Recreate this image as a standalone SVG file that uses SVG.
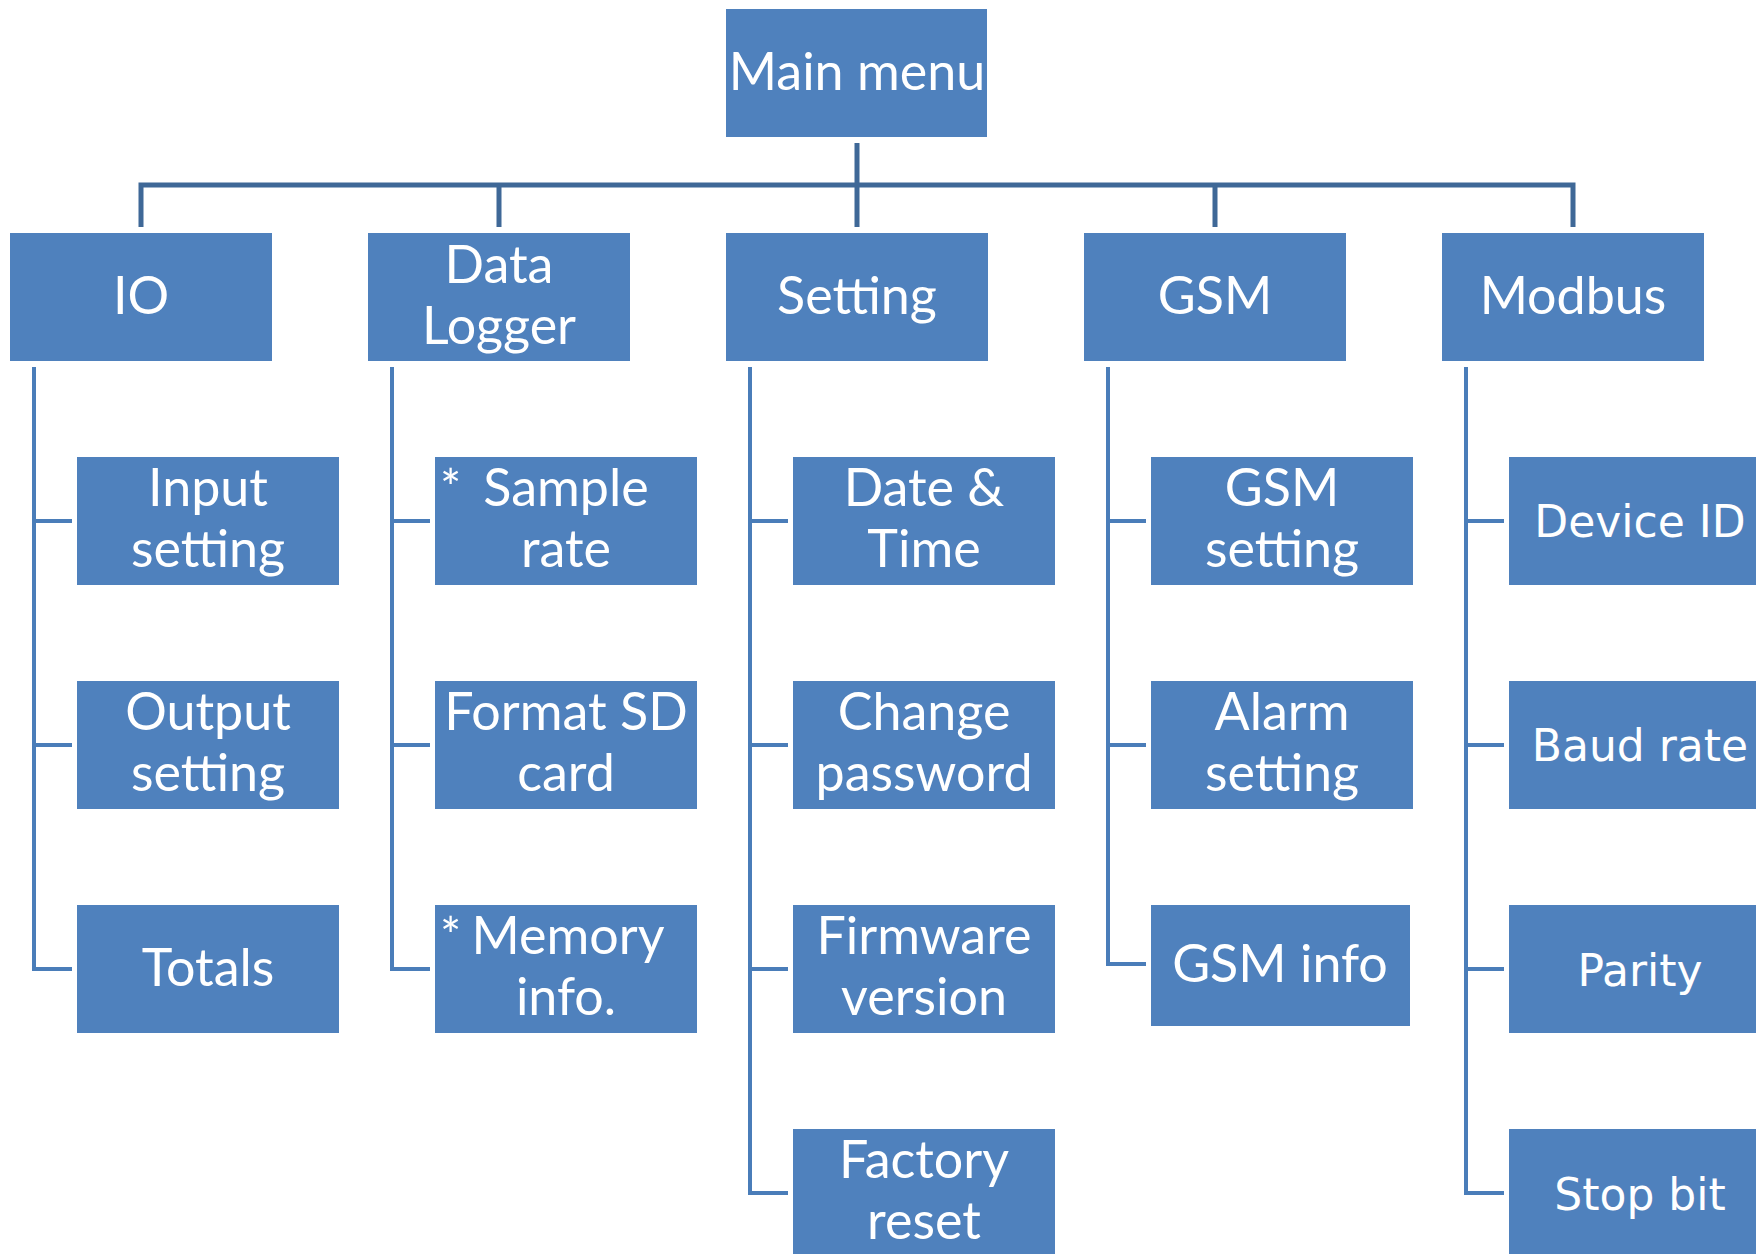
<svg xmlns="http://www.w3.org/2000/svg" width="1756" height="1254" viewBox="0 0 1756 1254">
<style>
.box{fill:#4F81BD}
.t{font-family:Lato,"Liberation Sans",sans-serif;font-size:52px;fill:#fff;text-anchor:middle}
.a{font-family:Lato,"Liberation Sans",sans-serif;font-size:50px;fill:#fff}
.m{font-family:"DejaVu Sans","Liberation Sans",sans-serif;font-size:44px;fill:#fff;text-anchor:middle}
.top{fill:none;stroke:#3F6897;stroke-width:5}
.sub{fill:none;stroke:#4A7DB9;stroke-width:4}
</style>
<rect width="1756" height="1254" fill="#fff"/>
<g id="connectors">
<path class="top" d="M857 143V227M141 227V185H1573V227M499 185V227M1215 185V227"/>
<path class="sub" d="M34 367V969H72M34 521H72M34 745H72"/>
<path class="sub" d="M392 367V969H430M392 521H430M392 745H430"/>
<path class="sub" d="M750 367V1193H788M750 521H788M750 745H788M750 969H788"/>
<path class="sub" d="M1108 367V964H1146M1108 521H1146M1108 745H1146"/>
<path class="sub" d="M1466 367V1193H1504M1466 521H1504M1466 745H1504M1466 969H1504"/>
</g>
<g id="main-menu"><rect class="box" x="726" y="9" width="261" height="128"/><text class="t" x="857" y="90">Main menu</text></g>
<g id="io"><rect class="box" x="10" y="233" width="262" height="128"/><text class="t" x="141" y="314">IO</text></g>
<g id="data-logger"><rect class="box" x="368" y="233" width="262" height="128"/><text class="t" x="499" y="283">Data</text><text class="t" x="499" y="344">Logger</text></g>
<g id="setting"><rect class="box" x="726" y="233" width="262" height="128"/><text class="t" x="857" y="314">Setting</text></g>
<g id="gsm"><rect class="box" x="1084" y="233" width="262" height="128"/><text class="t" x="1215" y="314">GSM</text></g>
<g id="modbus"><rect class="box" x="1442" y="233" width="262" height="128"/><text class="t" x="1573" y="314">Modbus</text></g>

<g id="input-setting"><rect class="box" x="77" y="457" width="262" height="128"/><text class="t" x="208" y="506">Input</text><text class="t" x="208" y="567">setting</text></g>
<g id="output-setting"><rect class="box" x="77" y="681" width="262" height="128"/><text class="t" x="208" y="730">Output</text><text class="t" x="208" y="791">setting</text></g>
<g id="totals"><rect class="box" x="77" y="905" width="262" height="128"/><text class="t" x="208" y="986">Totals</text></g>

<g id="sample-rate"><rect class="box" x="435" y="457" width="262" height="128"/><text class="a" x="440" y="506">*</text><text class="t" x="566" y="506">Sample</text><text class="t" x="566" y="567">rate</text></g>
<g id="format-sd"><rect class="box" x="435" y="681" width="262" height="128"/><text class="t" x="566" y="730">Format SD</text><text class="t" x="566" y="791">card</text></g>
<g id="memory-info"><rect class="box" x="435" y="905" width="262" height="128"/><text class="a" x="440" y="954">*</text><text class="t" x="568" y="954">Memory</text><text class="t" x="566" y="1015">info.</text></g>

<g id="date-time"><rect class="box" x="793" y="457" width="262" height="128"/><text class="t" x="924" y="506">Date &amp;</text><text class="t" x="924" y="567">Time</text></g>
<g id="change-password"><rect class="box" x="793" y="681" width="262" height="128"/><text class="t" x="924" y="730">Change</text><text class="t" x="924" y="791">password</text></g>
<g id="firmware-version"><rect class="box" x="793" y="905" width="262" height="128"/><text class="t" x="924" y="954">Firmware</text><text class="t" x="924" y="1015">version</text></g>
<g id="factory-reset"><rect class="box" x="793" y="1129" width="262" height="128"/><text class="t" x="924" y="1178">Factory</text><text class="t" x="924" y="1239">reset</text></g>

<g id="gsm-setting"><rect class="box" x="1151" y="457" width="262" height="128"/><text class="t" x="1282" y="506">GSM</text><text class="t" x="1282" y="567">setting</text></g>
<g id="alarm-setting"><rect class="box" x="1151" y="681" width="262" height="128"/><text class="t" x="1282" y="730">Alarm</text><text class="t" x="1282" y="791">setting</text></g>
<g id="gsm-info"><rect class="box" x="1151" y="905" width="259" height="121"/><text class="t" x="1280" y="982">GSM info</text></g>

<g id="device-id"><rect class="box" x="1509" y="457" width="262" height="128"/><text class="m" x="1640" y="537">Device ID</text></g>
<g id="baud-rate"><rect class="box" x="1509" y="681" width="262" height="128"/><text class="m" x="1640" y="761">Baud rate</text></g>
<g id="parity"><rect class="box" x="1509" y="905" width="262" height="128"/><text class="m" x="1640" y="986">Parity</text></g>
<g id="stop-bit"><rect class="box" x="1509" y="1129" width="262" height="128"/><text class="m" x="1640" y="1210">Stop bit</text></g>
</svg>
